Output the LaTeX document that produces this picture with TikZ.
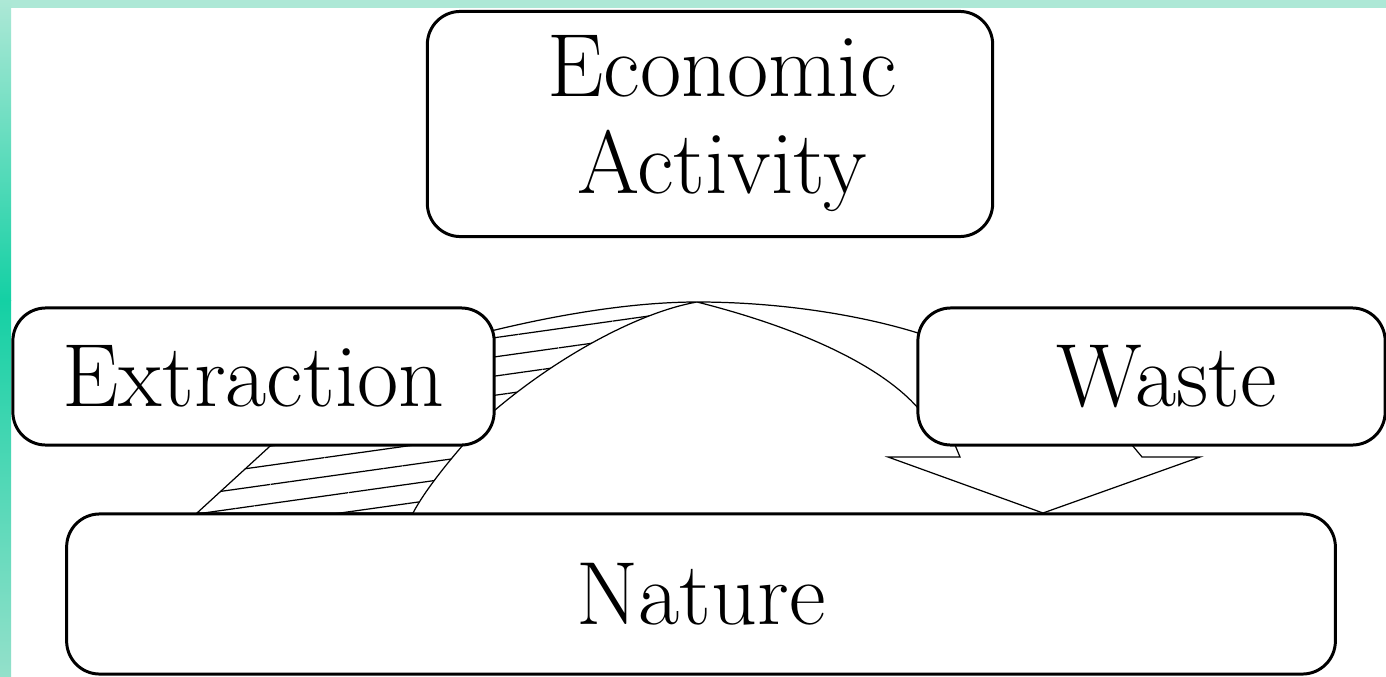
\documentclass[tikz,border=0pt]{standalone}
\usepackage{tikz}
\usetikzlibrary{calc,patterns.meta}
\definecolor{tealtop}{RGB}{173,232,214}
\definecolor{tealmid}{RGB}{20,208,164}
\definecolor{tealbot}{RGB}{147,224,202}
\tikzstyle{roundbox}=[rectangle,draw=black,fill=white,line width=0.85pt,
                      rounded corners=0.33cm,inner sep=0pt,
                      font=\fontsize{25.5}{27.6}\selectfont]
\tikzstyle{band}=[draw=black,line width=0.35pt]
\tikzstyle{hatchband}=[band,
                       pattern={Lines[angle=8,distance=0.19cm,line width=0.35pt]}]
\newcommand\boxlabel[2]{\parbox{5cm}{\centering #1 \\ #2}}

\begin{document}
\begin{tikzpicture}[x=0.01cm,y=-0.01cm]
    \useasboundingbox (0,0) rectangle (1386,676);
    \fill[white] (0,0) rectangle (1386,676);
    \fill[tealtop] (0,0) rectangle (1386,8);
    \shade[top color=tealtop,bottom color=tealmid] (0,0) rectangle (11,300);
    \shade[top color=tealmid,bottom color=tealbot] (0,300) rectangle (11,676);

    % flow from nature over the top into waste, drawn first so the boxes hide it
    \coordinate (peak) at (697,302);
    \draw[hatchband] (197,513) -- (268,448)
        .. controls (330,388) and (420,345) .. (495,330)
        .. controls (570,312) and (640,302) .. (peak)
        .. controls (640,312) and (560,355) .. (495,410)
        .. controls (480,425) and (470,436) .. (463,445)
        .. controls (450,460) and (425,490) .. (413,513) -- cycle;
    \draw[band] (peak) .. controls (780,302) and (860,315) .. (918,333)
        .. controls (1000,360) and (1110,400) .. (1132,445)
        -- (1142,457) -- (1200,457) -- (1043,513) -- (888,457) -- (960,457)
        -- (955,445) -- (918,408)
        .. controls (880,365) and (800,328) .. (peak);

    \node [roundbox,minimum width=5.65cm,minimum height=2.25cm] (economy) at (710,124) {
        \hspace*{0.24cm}\boxlabel{Economic}{Activity}
    };
    \node [roundbox,minimum width=4.81cm,minimum height=1.37cm] (extraction) at (253.5,376.5) {
        Extraction
    };
    \node [roundbox,minimum width=4.67cm,minimum height=1.37cm] (waste) at (1151.5,376.5) {
        \hspace*{0.3cm}Waste
    };
    \node [roundbox,minimum width=12.68cm,minimum height=1.60cm] (nature) at (701,594) {
        Nature
    };
\end{tikzpicture}
\end{document}
